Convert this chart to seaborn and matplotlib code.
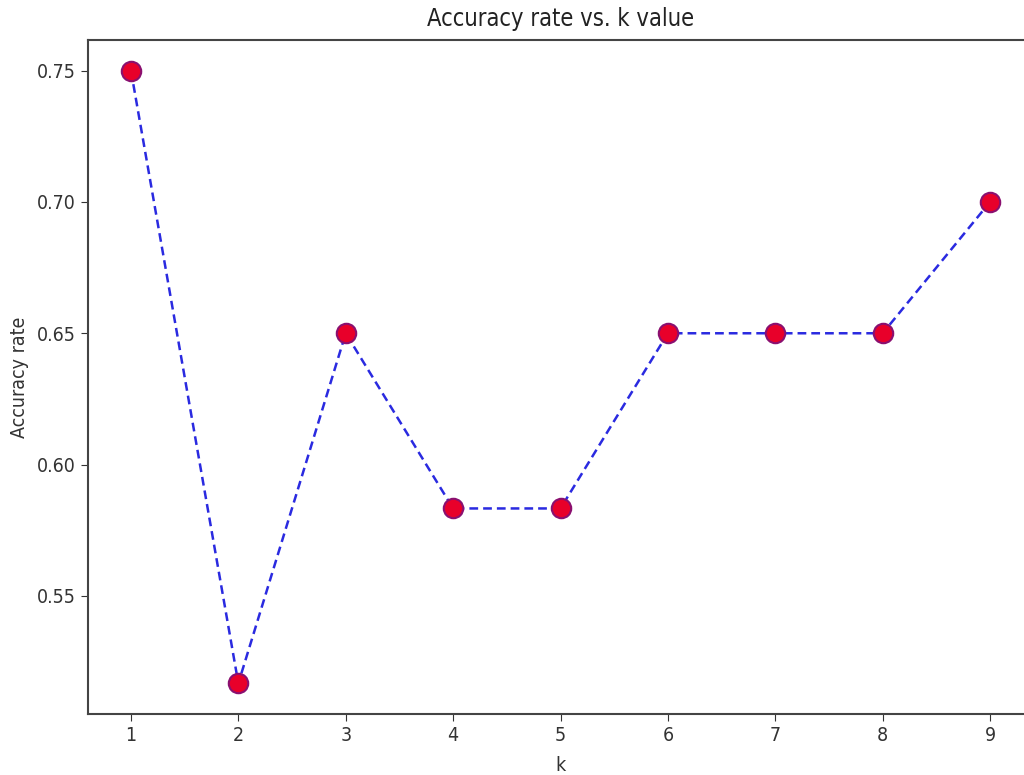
import matplotlib
matplotlib.use("Agg")
import matplotlib.pyplot as plt
import seaborn as sns
import pandas as pd

# values
k_values = [1, 2, 3, 4, 5, 6, 7, 8, 9]
accuracy = [0.75, 0.5167, 0.65, 0.5833, 0.5833, 0.65, 0.65, 0.65, 0.70]
y_ticks = [0.55, 0.60, 0.65, 0.70, 0.75]

df = pd.DataFrame({"k": k_values, "Accuracy rate": accuracy})

plt.rcParams["font.family"] = ["DejaVu Sans"]
plt.rcParams["font.stretch"] = "condensed"

fig = plt.figure(figsize=(10.24, 7.75), dpi=100)
# axes runs slightly past the right edge like the cropped original
ax = fig.add_axes([88 / 1024, 61 / 775, 945 / 1024, 674 / 775])

sns.lineplot(data=df, x="k", y="Accuracy rate", ax=ax,
             color="#2a2ae0", linestyle=(0, (3.5, 2)), linewidth=1.8,
             marker="o", markersize=14, markerfacecolor="#e8002a",
             markeredgecolor="#8a1070", markeredgewidth=1.5)

ax.set_xticks(k_values)
ax.set_yticks(y_ticks)
ax.tick_params(labelsize=14, colors="#333333", length=5)
ax.set_title("Accuracy rate vs. k value", fontsize=17, color="#222222", pad=10)
ax.set_xlabel("k", fontsize=14, color="#333333", labelpad=8)
ax.set_ylabel("Accuracy rate", fontsize=14, color="#333333", labelpad=6)
for sp in ax.spines.values():
    sp.set_linewidth(1.5)
    sp.set_color("#444444")

fig.savefig("out.png", dpi=100)
